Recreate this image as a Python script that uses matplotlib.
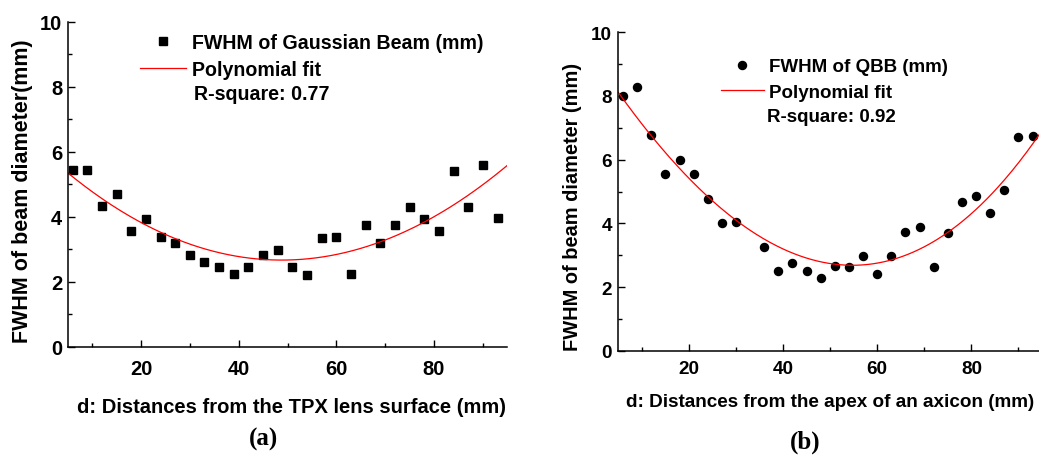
import numpy as np
import matplotlib
matplotlib.use("Agg")
import matplotlib.pyplot as plt
from matplotlib.lines import Line2D
from matplotlib.ticker import MultipleLocator

# ---- data ----
d_a = [6, 9, 12, 15, 18, 21, 24, 27, 30, 33, 36, 39, 42, 45, 48,
       51, 54, 57, 60, 63, 66, 69, 72, 75, 78, 81, 84, 87, 90, 93]
fwhm_a = [5.45, 5.44, 4.33, 4.69, 3.56, 3.94, 3.38, 3.18, 2.83, 2.61,
          2.44, 2.24, 2.44, 2.81, 2.99, 2.44, 2.21, 3.35, 3.38, 2.25,
          3.75, 3.18, 3.74, 4.31, 3.94, 3.55, 5.42, 4.31, 5.60, 3.95]

d_b = [6, 9, 12, 15, 18, 21, 24, 27, 30, 36, 39, 42, 45, 48, 51,
       54, 57, 60, 63, 66, 69, 72, 75, 78, 81, 84, 87, 90, 93]
fwhm_b = [7.99, 8.29, 6.79, 5.54, 5.99, 5.54, 4.76, 4.00, 4.03, 3.26,
          2.51, 2.76, 2.51, 2.28, 2.66, 2.62, 2.97, 2.42, 2.97, 3.74,
          3.90, 2.62, 3.70, 4.68, 4.87, 4.32, 5.05, 6.71, 6.73]

# polynomial fit curves (sample positions along the red line)
fit_x_a = [5, 12.1, 24.1, 39.0, 49.1, 60.0, 72.0, 81.0, 89.9, 95.0]
fit_y_a = [5.34, 4.56, 3.52, 2.80, 2.67, 2.82, 3.39, 4.08, 5.06, 5.52]
fit_x_b = [5, 11.9, 20.9, 35.9, 50.9, 62.8, 74.7, 86.7, 94.3]
fit_y_b = [8.06, 6.81, 5.39, 3.38, 2.65, 2.96, 3.80, 5.08, 6.87]

xlabel_a = "d: Distances from the TPX lens surface (mm)"
xlabel_b = "d: Distances from the apex of an axicon (mm)"
ylabel_a = "FWHM of beam diameter(mm)"
ylabel_b = "FWHM of beam diameter (mm)"
legend_a = ["FWHM of Gaussian Beam (mm)", "Polynomial fit", "R-square: 0.77"]
legend_b = ["FWHM of QBB (mm)", "Polynomial fit", "R-square: 0.92"]

W, H = 1039, 456
plt.rcParams['font.family'] = ['Liberation Sans', 'DejaVu Sans']
fig = plt.figure(figsize=(W / 100, H / 100), dpi=100)

def px_axes(l, t, r, b):
    return fig.add_axes([l / W, 1 - b / H, (r - l) / W, (b - t) / H])

ax_a = px_axes(67.7, 22.7, 507.3, 347.7)
ax_b = px_axes(618.3, 33.3, 1042.0, 351.7)

def to_ax(ax, xp, yp):
    inv = ax.transAxes.inverted()
    return tuple(inv.transform((xp, H - yp)))

def style(ax, tick_fs, xpad, ypad):
    ax.set_xlim(5, 95)
    ax.set_ylim(0, 10)
    ax.xaxis.set_major_locator(MultipleLocator(20))
    ax.xaxis.set_minor_locator(MultipleLocator(10))
    ax.yaxis.set_major_locator(MultipleLocator(2))
    ax.yaxis.set_minor_locator(MultipleLocator(1))
    ax.spines['top'].set_visible(False)
    ax.spines['right'].set_visible(False)
    for s in ('left', 'bottom'):
        ax.spines[s].set_linewidth(1.1)
    ax.tick_params(which='major', direction='in', length=5, width=1.0,
                   labelsize=tick_fs)
    ax.tick_params(axis='x', which='major', pad=xpad)
    ax.tick_params(axis='y', which='major', pad=ypad)
    ax.tick_params(which='minor', direction='in', length=3, width=1.0)
    for lab in ax.get_xticklabels() + ax.get_yticklabels():
        lab.set_fontweight('bold')

def draw(ax, x, y, fx, fy, marker, ms, labels, xlabel, ylabel, cfg):
    style(ax, cfg['tick_fs'], cfg['xpad'], cfg['ypad'])
    ax.plot(x, y, linestyle='none', marker=marker, color='black', ms=ms)
    coef = np.polyfit(fx, fy, 3)
    xs = np.linspace(5, 95, 300)
    ax.plot(xs, np.polyval(coef, xs), color='red', lw=0.9)

    ax.set_xlabel(xlabel, fontsize=cfg['xl_fs'], fontweight='bold')
    ax.xaxis.label.set_va('center')
    ax.xaxis.set_label_coords(*to_ax(ax, *cfg['xl_pos']))
    ax.set_ylabel(ylabel, fontsize=cfg['yl_fs'], fontweight='bold')
    ax.yaxis.label.set_va('center')
    ax.yaxis.set_label_coords(*to_ax(ax, *cfg['yl_pos']))

    handles = [Line2D([], [], linestyle='none', marker=marker, color='black', ms=ms),
               Line2D([], [], color='red', lw=0.9)]
    ax.legend(handles, labels[:2], loc='center left',
              bbox_to_anchor=to_ax(ax, *cfg['leg_pos']),
              frameon=False, prop={'size': cfg['leg_fs'], 'weight': 'bold'},
              handlelength=cfg['hl'], handletextpad=0.28, labelspacing=0.44,
              borderaxespad=0, borderpad=0)
    ax.text(*to_ax(ax, *cfg['r_pos']), labels[2], transform=ax.transAxes,
            fontsize=cfg['leg_fs'], fontweight='bold', ha='left', va='center')

cfg_a = dict(tick_fs=14.5, xpad=9.0, ypad=4.0, xl_fs=14.5, yl_fs=15.5,
             xl_pos=(291.5, 408), yl_pos=(23, 191), leg_fs=14.1, hl=2.35,
             leg_pos=(140, 57), r_pos=(194, 95))
cfg_b = dict(tick_fs=13.6, xpad=6.5, ypad=4.7, xl_fs=13.6, yl_fs=14.4,
             xl_pos=(830, 402.5), yl_pos=(572, 206.5), leg_fs=13.5, hl=2.31,
             leg_pos=(720.7, 80.4), r_pos=(767, 117.5))

draw(ax_a, d_a, fwhm_a, fit_x_a, fit_y_a, 's', 5.2, legend_a, xlabel_a, ylabel_a, cfg_a)
draw(ax_b, d_b, fwhm_b, fit_x_b, fit_y_b, 'o', 5.8, legend_b, xlabel_b, ylabel_b, cfg_b)

fig.text(263 / W, 1 - 439 / H, "(a)", family='Liberation Serif', fontweight='bold',
         fontsize=18, ha='center', va='center')
fig.text(805 / W, 1 - 442 / H, "(b)", family='Liberation Serif', fontweight='bold',
         fontsize=18, ha='center', va='center')

fig.savefig("out.png", dpi=100)
